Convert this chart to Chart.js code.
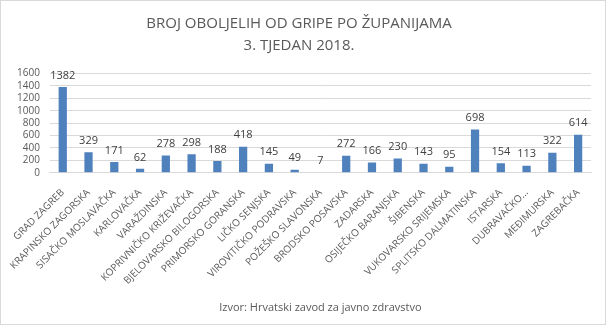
<!DOCTYPE html>
<html lang="hr">
<head>
    <meta charset="utf8" />
    <script src="https://cdn.jsdelivr.net/npm/chart.js@4.4.1/dist/chart.umd.min.js"></script>
    <title>Broj oboljelih od gripe</title>
    <style>
        html, body { margin: 0; padding: 0; background: #fff; }
        .wrap {
            width: 604px;
            height: 323px;
            border: 1px solid #d9d9d9;
            position: relative;
        }
    </style>
</head>
<body>
    <div class="wrap">
        <canvas id="gripa"></canvas>
    </div>

    <script>
        const zupanije = [
            'GRAD ZAGREB', 'KRAPINSKO ZAGORSKA', 'SISAČKO MOSLAVAČKA', 'KARLOVAČKA',
            'VARAŽDINSKA', 'KOPRIVNIČKO KRIŽEVAČKA', 'BJELOVARSKO BILOGORSKA',
            'PRIMORSKO GORANSKA', 'LIČKO SENJSKA', 'VIROVITIČKO PODRAVSKA',
            'POŽEŠKO SLAVONSKA', 'BRODSKO POSAVSKA', 'ZADARSKA', 'OSIJEČKO BARANJSKA',
            'ŠIBENSKA', 'VUKOVARSKO SRIJEMSKA', 'SPLITSKO DALMATINSKA', 'ISTARSKA',
            'DUBRAVAČKO...', 'MEĐIMURSKA', 'ZAGREBAČKA'
        ];
        const oboljeli = [1382, 329, 171, 62, 278, 298, 188, 418, 145, 49, 7,
            272, 166, 230, 143, 95, 698, 154, 113, 322, 614];
        const yTicks = [0, 200, 400, 600, 800, 1000, 1200, 1400, 1600];

        const fontName = "'Open Sans', 'Liberation Sans', sans-serif";

        // value labels above the bars
        const barLabels = {
            id: 'barLabels',
            afterDatasetsDraw(chart) {
                const ctx = chart.ctx;
                const meta = chart.getDatasetMeta(0);
                ctx.save();
                ctx.fillStyle = '#404040';
                ctx.font = '11px ' + fontName;
                ctx.textAlign = 'center';
                ctx.textBaseline = 'bottom';
                meta.data.forEach((bar, i) => {
                    ctx.fillText(oboljeli[i], bar.x, bar.y - 6);
                });
                ctx.restore();
            }
        };

        new Chart(document.getElementById('gripa'), {
            type: 'bar',
            data: {
                labels: zupanije,
                datasets: [{
                    data: oboljeli,
                    backgroundColor: '#4f81bd',
                    barPercentage: 0.32,
                    categoryPercentage: 1
                }]
            },
            options: {
                responsive: true,
                maintainAspectRatio: false,
                animation: false,
                layout: { padding: { left: 6, right: 14, top: 6, bottom: 4 } },
                scales: {
                    x: {
                        grid: { display: false },
                        border: { color: '#d9d9d9' },
                        ticks: {
                            color: '#595959',
                            font: { family: fontName, size: 10 },
                            minRotation: 45,
                            maxRotation: 45,
                            autoSkip: false,
                            padding: 6
                        }
                    },
                    y: {
                        min: 0,
                        max: 1600,
                        afterBuildTicks: (axis) => {
                            axis.ticks = yTicks.map(v => ({ value: v }));
                        },
                        grid: { color: '#d9d9d9', drawTicks: false },
                        border: { display: false },
                        ticks: {
                            color: '#595959',
                            font: { family: fontName, size: 10 },
                            padding: 10,
                            autoSkip: false,
                            callback: (v) => String(v)
                        }
                    }
                },
                plugins: {
                    legend: { display: false },
                    tooltip: { enabled: false },
                    title: {
                        display: true,
                        text: ['BROJ OBOLJELIH OD GRIPE PO ŽUPANIJAMA', '3. TJEDAN 2018.'],
                        color: '#595959',
                        font: { family: fontName, size: 15, weight: 'normal', lineHeight: 1.45 },
                        padding: { top: 6, bottom: 17 }
                    },
                    subtitle: {
                        display: true,
                        position: 'bottom',
                        fullSize: false,
                        text: 'Izvor: Hrvatski zavod za javno zdravstvo',
                        color: '#595959',
                        font: { family: fontName, size: 11 },
                        padding: { top: 8, bottom: 6 }
                    }
                }
            },
            plugins: [barLabels]
        });
    </script>
</body>
</html>
